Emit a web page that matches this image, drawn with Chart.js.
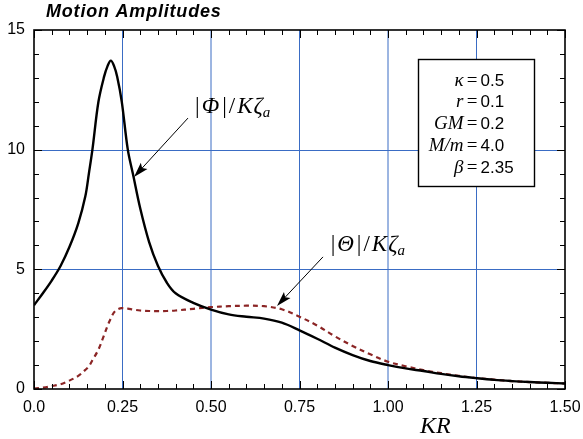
<!DOCTYPE html>
<html>
<head>
<meta charset="utf-8">
<title>Motion Amplitudes</title>
<script src="https://cdn.jsdelivr.net/npm/chart.js@4.4.1/dist/chart.umd.min.js"></script>
<style>
  html, body { margin: 0; padding: 0; background: #fff; }
  #wrap { width: 583px; height: 439px; }
</style>
</head>
<body>
<div id="wrap"><canvas id="amp" width="583" height="439"></canvas></div>
<script>
// ── DATA ──────────────────────────────────
const kr = [
  0, 0.025, 0.05, 0.075, 0.1, 0.125, 0.145, 0.155, 0.165, 0.182, 0.198, 0.208,
  0.217, 0.226, 0.235, 0.248, 0.265, 0.28, 0.3, 0.325, 0.35, 0.375, 0.4, 0.45,
  0.5, 0.55, 0.6, 0.65, 0.7, 0.75, 0.8, 0.85, 0.9, 0.95, 1.0, 1.05, 1.1, 1.15,
  1.2, 1.25, 1.3, 1.35, 1.4, 1.45, 1.5
];
const phiAmp = [
  3.5, 4.0, 4.53, 5.14, 5.93, 6.92, 8.05, 9.0, 10.0, 12.0, 13.05, 13.5,
  13.72, 13.5, 13.05, 12.0, 10.0, 8.95, 7.55, 6.15, 5.15, 4.45, 4.0, 3.6,
  3.32, 3.12, 3.02, 2.94, 2.77, 2.45, 2.1, 1.73, 1.42, 1.17, 1.0, 0.86, 0.75, 0.63,
  0.53, 0.45, 0.38, 0.33, 0.29, 0.26, 0.23
];
const thetaAmp = [
  0.02, 0.06, 0.12, 0.2, 0.35, 0.55, 0.8, 0.95, 1.2, 1.65, 2.25, 2.65,
  2.95, 3.2, 3.32, 3.38, 3.36, 3.32, 3.28, 3.26, 3.25, 3.26, 3.28, 3.35,
  3.42, 3.46, 3.48, 3.46, 3.33, 3.02, 2.65, 2.2, 1.8, 1.45, 1.14, 0.95, 0.79, 0.66,
  0.55, 0.46, 0.39, 0.33, 0.29, 0.26, 0.23
];

const xTicks      = [0, 0.25, 0.5, 0.75, 1.0, 1.25, 1.5];
const xTickLabels = ['0.0', '0.25', '0.50', '0.75', '1.00', '1.25', '1.50'];
const yTicks      = [0, 5, 10, 15];
const yTickLabels = ['0', '5', '10', '15'];

const paramNames  = ['κ', 'r', 'GM', 'M/m', 'β'];
const paramValues = ['0.5', '0.1', '0.2', '4.0', '2.35'];

// ── STYLE ─────────────────────────────────
const SANS  = '"Liberation Sans", Arial, sans-serif';
const SERIF = '"Liberation Serif", "Times New Roman", serif';
const GRID  = '#3a6cc4';

// ── HELPERS ───────────────────────────────
function drawRuns(ctx, x, y, runs) {
  // runs: [text, font, dy, gapAfter]
  ctx.textAlign = 'left';
  ctx.textBaseline = 'alphabetic';
  for (const [t, font, dy, gap] of runs) {
    ctx.font = font;
    ctx.fillText(t, x, y + (dy || 0));
    x += ctx.measureText(t).width + (gap || 0);
  }
}

function drawArrow(ctx, x0, y0, x1, y1) {
  const ang = Math.atan2(y1 - y0, x1 - x0);
  const c = Math.cos(ang), s = Math.sin(ang);
  const len = 15, half = 4.5;
  ctx.beginPath();
  ctx.moveTo(x0, y0);
  ctx.lineTo(x1 - c * len * 0.8, y1 - s * len * 0.8);
  ctx.lineWidth = 1;
  ctx.strokeStyle = '#000';
  ctx.stroke();
  ctx.beginPath();
  ctx.moveTo(x1, y1);
  ctx.lineTo(x1 - c * len - s * half, y1 - s * len + c * half);
  ctx.lineTo(x1 - c * len * 0.8, y1 - s * len * 0.8);
  ctx.lineTo(x1 - c * len + s * half, y1 - s * len - c * half);
  ctx.closePath();
  ctx.fillStyle = '#000';
  ctx.fill();
}

function ampLabel(sym) {
  return [
    ['|', '23px ' + SERIF, 0, 2],
    [sym, 'italic 23px ' + SERIF, 0, 3],
    ['|', '23px ' + SERIF, 0, 2],
    ['/', '23px ' + SERIF, 0, 2],
    ['K', 'italic 23px ' + SERIF, 0, 1],
    ['ζ', 'italic 23px ' + SERIF, 0, 0],
    ['a', 'italic 15px ' + SERIF, 4, 0]
  ];
}

// ── GRID (major ticks only) ───────────────
const gridPlugin = {
  id: 'majorGrid',
  beforeDatasetsDraw(chart) {
    const { ctx, chartArea: a, scales: { x, y } } = chart;
    ctx.save();
    ctx.strokeStyle = GRID;
    ctx.lineWidth = 1;
    ctx.beginPath();
    xTicks.slice(1, -1).forEach(v => {
      const px = x.getPixelForValue(v);
      ctx.moveTo(px, a.top); ctx.lineTo(px, a.bottom);
    });
    yTicks.slice(1, -1).forEach(v => {
      const py = Math.round(y.getPixelForValue(v)) + 0.5;
      ctx.moveTo(a.left, py); ctx.lineTo(a.right, py);
    });
    ctx.stroke();
    ctx.restore();
  }
};

// ── FRAME + INWARD TICKS ──────────────────
const framePlugin = {
  id: 'frame',
  afterDatasetsDraw(chart) {
    const { ctx, chartArea: a, scales: { x, y } } = chart;
    ctx.save();
    ctx.strokeStyle = '#000';
    ctx.lineWidth = 1;
    ctx.beginPath();
    for (let i = 0; i <= 30; i++) {
      const px = Math.round(x.getPixelForValue(i * 0.05)) + 0.5;
      const len = i % 5 ? 5 : 8;
      ctx.moveTo(px, a.bottom); ctx.lineTo(px, a.bottom - len);
      ctx.moveTo(px, a.top);    ctx.lineTo(px, a.top + len);
    }
    for (let v = 0; v <= 15; v++) {
      const py = Math.round(y.getPixelForValue(v)) + 0.5;
      const len = v % 5 ? 5 : 8;
      ctx.moveTo(a.left, py);  ctx.lineTo(a.left + len, py);
      ctx.moveTo(a.right, py); ctx.lineTo(a.right - len, py);
    }
    ctx.stroke();
    ctx.lineWidth = 1.6;
    ctx.strokeRect(a.left, a.top, a.right - a.left, a.bottom - a.top);
    ctx.restore();
  }
};

// ── LABELS, ARROWS, PARAMETER BOX ─────────
const notesPlugin = {
  id: 'notes',
  afterDraw(chart) {
    const { ctx, scales: { x, y } } = chart;
    const px = v => x.getPixelForValue(v);
    const py = v => y.getPixelForValue(v);
    ctx.save();
    ctx.fillStyle = '#000';

    // title
    ctx.font = 'italic bold 18px ' + SANS;
    ctx.letterSpacing = '0.8px';
    ctx.textAlign = 'left';
    ctx.textBaseline = 'alphabetic';
    ctx.fillText('Motion Amplitudes', 46, 17);
    ctx.letterSpacing = '0px';

    // axis title
    ctx.font = 'italic 24px ' + SERIF;
    ctx.fillText('KR', 420, 433);

    // curve labels
    drawRuns(ctx, px(0.455), py(11.53), ampLabel('Φ'));
    drawArrow(ctx, px(0.435), py(11.32), px(0.2825), py(8.86));
    drawRuns(ctx, px(0.838), py(5.77), ampLabel('Θ'));
    drawArrow(ctx, px(0.8164), py(5.52), px(0.6864), py(3.47));

    // parameter box
    const bx0 = Math.round(px(1.0847)) + 0.5, bx1 = Math.round(px(1.4124)) + 0.5;
    const by0 = Math.round(py(13.79)) + 0.5, by1 = Math.round(py(8.48)) + 0.5;
    ctx.fillStyle = '#fff';
    ctx.fillRect(bx0, by0, bx1 - bx0, by1 - by0);
    ctx.strokeStyle = '#000';
    ctx.lineWidth = 1.4;
    ctx.strokeRect(bx0, by0, bx1 - bx0, by1 - by0);
    ctx.fillStyle = '#000';
    paramNames.forEach((name, i) => {
      const base = by0 + 26 + i * 21.8;
      ctx.textBaseline = 'alphabetic';
      ctx.font = 'italic 19px ' + SERIF;
      ctx.textAlign = 'right';
      ctx.fillText(name, bx0 + 45, base);
      ctx.font = '19px ' + SERIF;
      ctx.textAlign = 'center';
      ctx.fillText('=', bx0 + 53.5, base);
      ctx.font = '17px ' + SANS;
      ctx.textAlign = 'left';
      ctx.fillText(paramValues[i], bx0 + 62, base);
    });
    ctx.restore();
  }
};

// ── CHART ────────────────────────────────
const ctx = document.getElementById('amp').getContext('2d');

new Chart(ctx, {
  type: 'line',
  data: {
    datasets: [
      {
        label: '|Φ|/Kζa',
        data: kr.map((k, i) => ({ x: k, y: phiAmp[i] })),
        borderColor: '#000',
        borderWidth: 2.4,
        pointRadius: 0,
        tension: 0.35,
        fill: false
      },
      {
        label: '|Θ|/Kζa',
        data: kr.map((k, i) => ({ x: k, y: thetaAmp[i] })),
        borderColor: '#8b2525',
        borderWidth: 2.2,
        borderDash: [5, 4],
        pointRadius: 0,
        tension: 0.35,
        fill: false
      }
    ]
  },
  options: {
    responsive: false,
    animation: false,
    devicePixelRatio: 1,
    layout: { padding: { top: 30, right: 18, left: 0, bottom: 0 } },
    plugins: { legend: { display: false }, tooltip: { enabled: false } },
    scales: {
      x: {
        type: 'linear', min: 0, max: 1.5,
        afterBuildTicks: s => { s.ticks = xTicks.map(v => ({ value: v })); },
        afterFit: s => { s.height = 50; s.paddingLeft = 0; s.paddingRight = 0; },
        ticks: {
          callback: (v, i) => xTickLabels[i],
          color: '#000', font: { family: SANS, size: 16 },
          padding: 9, maxRotation: 0, autoSkip: false
        },
        grid: { display: false, drawTicks: false },
        border: { display: false }
      },
      y: {
        type: 'linear', min: 0, max: 15,
        afterBuildTicks: s => { s.ticks = yTicks.map(v => ({ value: v })); },
        afterFit: s => { s.width = 34; s.paddingTop = 0; s.paddingBottom = 0; },
        ticks: {
          callback: (v, i) => yTickLabels[i],
          color: '#000', font: { family: SANS, size: 16 },
          padding: 9
        },
        grid: { display: false, drawTicks: false },
        border: { display: false }
      }
    }
  },
  plugins: [gridPlugin, framePlugin, notesPlugin]
});
</script>
</body>
</html>
